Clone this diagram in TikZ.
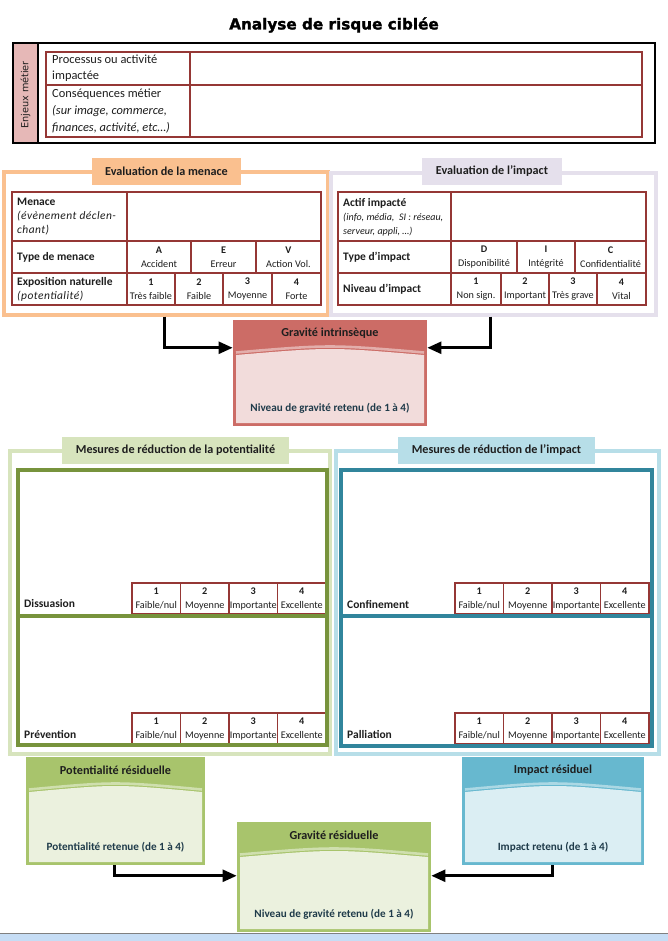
\documentclass[tikz,border=0pt]{standalone}
\usepackage{fontspec}
\setmainfont{Carlito}
\newfontfamily\titlefont[BoldFeatures={FakeBold=1.6}]{DejaVu Sans}
\newfontfamily\vertfont{DejaVu Sans}
\usetikzlibrary{calc,arrows.meta,fit}

\definecolor{txtdark}{HTML}{1E1E1E}
\definecolor{restxt}{HTML}{1F3B4A}
\definecolor{cellred}{HTML}{953735}
\definecolor{enjpink}{HTML}{E6B8B7}
\definecolor{menor}{HTML}{FAC08F}
\definecolor{implav}{HTML}{E5E0EC}
\definecolor{grlight}{HTML}{D7E4BD}
\definecolor{grdark}{HTML}{77933C}
\definecolor{bllight}{HTML}{B7DEE8}
\definecolor{bldark}{HTML}{31859C}
\definecolor{redhead}{HTML}{CC6C66}
\definecolor{redbody}{HTML}{F2DCDB}
\definecolor{grhead}{HTML}{A8C46C}
\definecolor{grbody}{HTML}{EBF1DE}
\definecolor{blhead}{HTML}{67B8CF}
\definecolor{blbody}{HTML}{DBEEF3}
\definecolor{stripblue}{HTML}{C6DDF5}

% result box: name, top-left x/y, bottom-right x/y, head colour, body colour, title, text
\newcommand{\resultbox}[9]{%
  \node[fit={(#2,#3) (#4,#5)}, inner sep=0pt, fill=#6] (#1) {};
  \draw[#6!55!white, line width=2.2pt]
    ({#2+3},{#3+32.5}) .. controls ({(#2+#4)/2},{#3+24.5}) .. ({#4-3},{#3+32.5});
  \fill[#7] ({#2+3},{#3+35}) .. controls ({(#2+#4)/2},{#3+27}) .. ({#4-3},{#3+35})
    -- ({#4-3},{#5-3}) -- ({#2+3},{#5-3}) -- cycle;
  \node[restitle] (#1-t) at ({(#2+#4)/2},{#3+13}) {#8};
  \node[restext] (#1-b) at ({(#2+#4)/2},{#5-18}) {#9};
}

% scale 1..4 of a reduction measure: name, left x, top y
\newcommand{\echelle}[3]{%
  \foreach \lab [count=\k] in {{Faible/nul},Moyenne,Importante,Excellente}{
    \draw[cell] ({#2+(\k-1)*48.5},#3) rectangle ({#2+\k*48.5},{#3+31});
    \node[num] (#1-\k) at ({#2+(\k-0.5)*48.5},{#3+15.5}) {\textbf{\k}\\\lab};
  }}

\newcommand{\spit}[1]{{\itshape\addfontfeature{LetterSpace=4}#1}}

\begin{document}
\begin{tikzpicture}[x=0.03cm, y=-0.03cm,
    secframe/.style={line width=2.6pt, inner sep=0pt},
    inframe/.style={line width=3.4pt, inner sep=0pt},
    hdr/.style={inner sep=0pt, font=\fontsize{10.4}{12}\selectfont\bfseries, text=txtdark},
    cell/.style={draw=cellred, line width=0.9pt},
    lbl/.style={anchor=west, align=left, inner sep=0pt, font=\fontsize{9.8}{11.9}\selectfont, text=txtdark},
    num/.style={align=center, inner sep=0pt, font=\fontsize{8.7}{11.9}\selectfont, text=txtdark},
    restitle/.style={font=\fontsize{10.4}{12}\selectfont\bfseries, text=txtdark, inner sep=0pt},
    restext/.style={font=\fontsize{9.5}{11}\selectfont\bfseries, text=restxt, inner sep=0pt},
    arr/.style={-{Triangle[length=12pt,width=10pt]}, line width=2.6pt}]

  \fill[white] (0,0) rectangle (668,941);
  \useasboundingbox (0,0) rectangle (668,941);

  % Title
  \node[font=\titlefont\fontsize{13}{15}\selectfont\bfseries] (title) at (334,25) {Analyse de risque ciblée};

  % Enjeux metier
  \fill[enjpink] (13,43) rectangle (38,143);
  \node[draw, line width=1.2pt, fit={(13,43) (655,143)}, inner sep=0pt] (enjeux) {};
  \draw[line width=1.2pt] (38,43) -- (38,143);
  \node[rotate=90, font=\vertfont\fontsize{8.3}{10}\selectfont, text=txtdark] (enj-l) at (25.5,95) {Enjeux métier};
  \draw[cell] (46,52) rectangle (642,137);
  \draw[cell] (190,52) -- (190,137);
  \draw[cell] (46,85) -- (642,85);
  \node[lbl, font=\fontsize{10.6}{14}\selectfont] (proc) at (52,68) {Processus ou activité\\impactée};
  \node[lbl, font=\fontsize{10.6}{14.5}\selectfont] (cons) at (52,111) {Conséquences métier\\\textit{(sur image, commerce,}\\\textit{finances, activité, etc…)}};

  % Evaluation de la menace
  \node[secframe, draw=menor, fit={(4,172) (328,315)}] (menace) {};
  \node[inner sep=0pt, fill=menor, fit={(92,158) (241,185)}] (menace-h) {};
  \node[hdr] (menace-l) at (menace-h.center) {Evaluation de la menace};
  \draw[cell] (12,192) rectangle (321,305);
  \draw[cell] (12,241) -- (321,241);
  \draw[cell] (12,273) -- (321,273);
  \draw[cell] (127,192) -- (127,305);
  \draw[cell] (191,241) -- (191,273);
  \draw[cell] (256,241) -- (256,273);
  \foreach \cx in {175,223,272} \draw[cell] (\cx,273) -- (\cx,305);
  \node[lbl] (men) at (17,217) {\textbf{Menace}\\\spit{(évènement déclen-}\\\spit{chant)}};
  \node[lbl] (tmen) at (17,257) {\textbf{Type de menace}};
  \node[lbl] (expo) at (17,289) {\textbf{Exposition naturelle}\\\spit{(potentialité)}};
  \foreach \cx/\l/\t [count=\k] in {159/A/Accident, 223.5/E/Erreur, 288.5/V/Action Vol.}
    \node[num] (ty-\k) at (\cx,257) {\textbf{\l}\\\t};
  \foreach \cx/\l/\t [count=\k] in {151/1/Très faible, 199/2/Faible, 247.5/3/Moyenne, 296.5/4/Forte}
    \node[num] (ex-\k) at (\cx,289) {\textbf{\l}\\\t};

  % Evaluation de l'impact
  \node[secframe, draw=implav, fit={(331,173) (656,315)}] (impact) {};
  \node[inner sep=0pt, fill=implav, fit={(422,158) (562,185)}] (impact-h) {};
  \node[hdr] (impact-l) at (impact-h.center) {Evaluation de l’impact};
  \draw[cell] (338,192) rectangle (646,305);
  \draw[cell] (338,241) -- (646,241);
  \draw[cell] (338,273) -- (646,273);
  \draw[cell] (451,192) -- (451,305);
  \draw[cell] (517,241) -- (517,273);
  \draw[cell] (575,241) -- (575,273);
  \foreach \cx in {501,549,597} \draw[cell] (\cx,273) -- (\cx,305);
  \node[lbl] (act) at (343,217) {\textbf{Actif impacté}\\{\fontsize{8.6}{11.9}\selectfont\itshape (info, média,\ \ SI : réseau,}\\{\fontsize{8.6}{11.9}\selectfont\itshape serveur, appli, …)}};
  \node[lbl] (timp) at (343,257) {\textbf{Type d’impact}};
  \node[lbl] (nimp) at (343,289) {\textbf{Niveau d’impact}};
  \foreach \cx/\l/\t [count=\k] in {484/D/Disponibilité, 546/I/Intégrité, 610.5/C/Confidentialité}
    \node[num] (ti-\k) at (\cx,257) {\textbf{\l}\\\t};
  \foreach \cx/\l/\t [count=\k] in {476/1/Non sign., 525/2/Important, 573/3/Très grave, 621.5/4/Vital}
    \node[num] (ni-\k) at (\cx,289) {\textbf{\l}\\\t};

  % Gravite intrinseque
  \resultbox{gi}{233}{320}{427}{426}{redhead}{redbody}{Gravité intrinsèque}{Niveau de gravité retenu (de 1 à 4)}
  \draw[arr] ($(menace.south west)+(162,0)$) |- ($(gi.north west)+(0,28)$);
  \draw[arr] ($(impact.south west)+(161,0)$) |- ($(gi.north east)+(0,28)$);

  % Mesures de reduction de la potentialite
  \node[secframe, draw=grlight, fit={(10,451) (330,754)}] (mpot) {};
  \node[inner sep=0pt, fill=grlight, fit={(62,437) (289,464)}] (mpot-h) {};
  \node[hdr] (mpot-l) at (mpot-h.center) {Mesures de réduction de la potentialité};
  \echelle{dis}{132}{583}
  \echelle{pre}{132}{713}
  \node[inframe, draw=grdark, fit={(18,470) (327,745)}] (mpot-in) {};
  \draw[grdark, line width=3.4pt] (mpot-in.west |- 0,616) -- (mpot-in.east |- 0,616);
  \node[lbl, font=\fontsize{9.8}{11.9}\selectfont\bfseries] (dis) at (24,604) {Dissuasion};
  \node[lbl, font=\fontsize{9.8}{11.9}\selectfont\bfseries] (pre) at (24,734) {Prévention};

  % Mesures de reduction de l'impact
  \node[secframe, draw=bllight, fit={(336,451) (659,754)}] (mimp) {};
  \node[inner sep=0pt, fill=bllight, fit={(398,437) (595,464)}] (mimp-h) {};
  \node[hdr] (mimp-l) at (mimp-h.center) {Mesures de réduction de l’impact};
  \echelle{con}{455}{583}
  \echelle{pal}{455}{713}
  \node[inframe, draw=bldark, fit={(341,470) (652,746)}] (mimp-in) {};
  \draw[bldark, line width=3.4pt] (mimp-in.west |- 0,616) -- (mimp-in.east |- 0,616);
  \node[lbl, font=\fontsize{9.8}{11.9}\selectfont\bfseries] (con) at (347,604) {Confinement};
  \node[lbl, font=\fontsize{9.8}{11.9}\selectfont\bfseries] (pal) at (347,734) {Palliation};

  % Residual results
  \resultbox{potres}{26}{757}{205}{865}{grhead}{grbody}{Potentialité résiduelle}{Potentialité retenue (de 1 à 4)}
  \resultbox{impres}{462}{757}{644}{865}{blhead}{blbody}{Impact résiduel}{Impact retenu (de 1 à 4)}
  \resultbox{gravres}{237}{822}{431}{932}{grhead}{grbody}{Gravité résiduelle}{Niveau de gravité retenu (de 1 à 4)}
  \draw[arr] ($(potres.south west)+(89,0)$) |- ($(gravres.north west)+(0,54)$);
  \draw[arr] ($(impres.south west)+(91,0)$) |- ($(gravres.north east)+(0,54)$);

  % bottom strip
  \fill[stripblue] (0,933) rectangle (668,941);
  \draw[gray, line width=0.8pt] (0,933) -- (668,933);
\end{tikzpicture}
\end{document}
